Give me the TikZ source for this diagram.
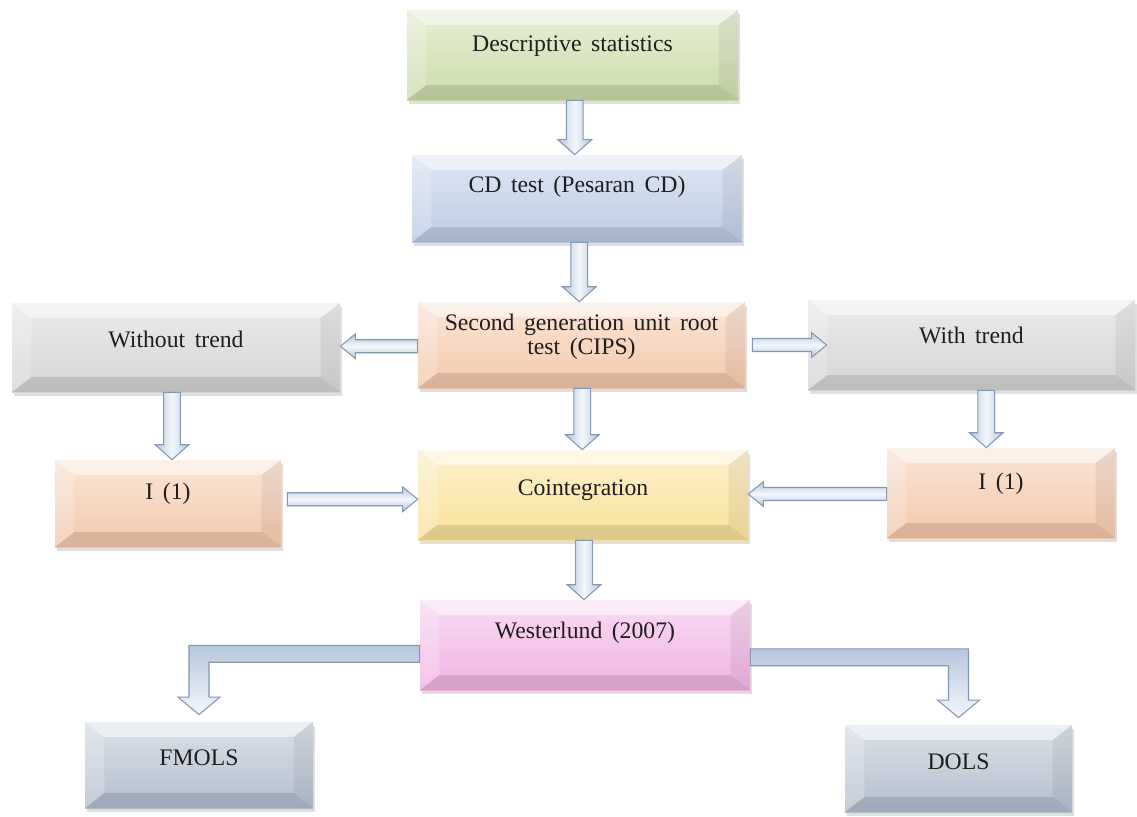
\documentclass[tikz,border=0pt]{standalone}
\usepackage{fontspec}
\setmainfont[WordSpace={1.6,0.5,0.3}]{Liberation Serif}
\usetikzlibrary{calc,shadows}
\definecolor{cgreen}{HTML}{C3D69B}
\definecolor{cblue}{HTML}{AFC2E0}
\definecolor{cpeach}{HTML}{F2BE9C}
\definecolor{cgrey}{HTML}{CDCDCD}
\definecolor{cyellow}{HTML}{F8DC86}
\definecolor{cpink}{HTML}{EFA5DE}
\definecolor{cslate}{HTML}{A6B3C5}
\definecolor{arrline}{HTML}{8396B2}
\definecolor{arrdark}{HTML}{B7C7DC}
\definecolor{arrlight}{HTML}{F3F7FC}
\newcommand\lift[2]{\raisebox{#1}[\height][\depth]{#2}}
\tikzset{
  bevel/.style={rectangle, inner sep=0pt, draw=none,
    top color=#1!40!white, bottom color=#1!85!white,
    font=\fontsize{13.5}{13.5}\selectfont, text=black!88, align=center,
    drop shadow={shadow xshift=1pt, shadow yshift=-2pt, opacity=.25},
    path picture={
      \fill[white,opacity=.5] (path picture bounding box.north west) -- (path picture bounding box.north east)
        -- ([xshift=-11pt,yshift=-8.5pt]path picture bounding box.north east)
        -- ([xshift=11pt,yshift=-8.5pt]path picture bounding box.north west) -- cycle;
      \fill[white,opacity=.22] (path picture bounding box.north west)
        -- ([xshift=11pt,yshift=-8.5pt]path picture bounding box.north west)
        -- ([xshift=11pt,yshift=8.5pt]path picture bounding box.south west)
        -- (path picture bounding box.south west) -- cycle;
      \fill[black,opacity=.06] (path picture bounding box.north east)
        -- ([xshift=-11pt,yshift=-8.5pt]path picture bounding box.north east)
        -- ([xshift=-11pt,yshift=8.5pt]path picture bounding box.south east)
        -- (path picture bounding box.south east) -- cycle;
      \fill[black,opacity=.11] (path picture bounding box.south west)
        -- ([xshift=11pt,yshift=8.5pt]path picture bounding box.south west)
        -- ([xshift=-11pt,yshift=8.5pt]path picture bounding box.south east)
        -- (path picture bounding box.south east) -- cycle;
    }},
  fatv/.style={draw=arrline, line width=0.6pt, left color=arrdark, right color=arrdark, middle color=arrlight},
  fath/.style={draw=arrline, line width=0.6pt, top color=arrdark, bottom color=arrdark, middle color=arrlight},
  fate/.style={draw=arrline, line width=0.6pt, top color=arrdark, bottom color=arrlight},
}
% box: name, x1, y1, x2, y2, colour, text
\newcommand\bx[7]{\node[bevel=#6, minimum width={(#4-#2)*0.02cm}, minimum height={(#5-#3)*0.02cm}]
  (#1) at ({(#2+#4)/2},{(#3+#5)/2}) {#7};}
\newcommand\vdown[2]{%
  \path[fatv] let \p1=($(#1.south)!0.5!(#2.north)$), \p2=(#1.south), \p3=(#2.north) in
  (\x1-4.8pt,\y2) -- (\x1+4.8pt,\y2) -- (\x1+4.8pt,\y3+8.5pt) -- (\x1+9.6pt,\y3+8.5pt) -- (\x1,\y3)
  -- (\x1-9.6pt,\y3+8.5pt) -- (\x1-4.8pt,\y3+8.5pt) -- cycle;}
% source, target, start shift, end shift
\newcommand\hleft[4]{%
  \path[fath] let \p1=($(#1.west)!0.5!(#2.east)$), \p2=([xshift=-#3]#1.west), \p3=([xshift=-#4]#2.east) in
  (\x2,\y1+3.7pt) -- (\x3+8.5pt,\y1+3.7pt) -- (\x3+8.5pt,\y1+7pt) -- (\x3,\y1) -- (\x3+8.5pt,\y1-7pt)
  -- (\x3+8.5pt,\y1-3.7pt) -- (\x2,\y1-3.7pt) -- cycle;}
\newcommand\hright[4]{%
  \path[fath] let \p1=($(#1.east)!0.5!(#2.west)$), \p2=([xshift=#3]#1.east), \p3=([xshift=#4]#2.west) in
  (\x2,\y1+3.7pt) -- (\x3-8.5pt,\y1+3.7pt) -- (\x3-8.5pt,\y1+7pt) -- (\x3,\y1) -- (\x3-8.5pt,\y1-7pt)
  -- (\x3-8.5pt,\y1-3.7pt) -- (\x2,\y1-3.7pt) -- cycle;}
\newcommand\elbowL[3]{%
  \path[fate] let \p1=([yshift=#3]#1.west), \p2=([yshift=4pt]#2.north) in
  (\x1,\y1+4.8pt) -- (\x2-5.7pt,\y1+4.8pt) -- (\x2-5.7pt,\y2+10pt) -- (\x2-12pt,\y2+10pt) -- (\x2,\y2)
  -- (\x2+12pt,\y2+10pt) -- (\x2+5.7pt,\y2+10pt) -- (\x2+5.7pt,\y1-4.8pt) -- (\x1,\y1-4.8pt) -- cycle;}
\newcommand\elbowR[3]{%
  \path[fate] let \p1=([yshift=#3]#1.east), \p2=([yshift=4pt]#2.north) in
  (\x1,\y1+4.8pt) -- (\x2+5.7pt,\y1+4.8pt) -- (\x2+5.7pt,\y2+10pt) -- (\x2+12pt,\y2+10pt) -- (\x2,\y2)
  -- (\x2-12pt,\y2+10pt) -- (\x2-5.7pt,\y2+10pt) -- (\x2-5.7pt,\y1-4.8pt) -- (\x1,\y1-4.8pt) -- cycle;}
\begin{document}
\begin{tikzpicture}[x=0.02cm, y=-0.02cm]
\fill[white] (0,0) rectangle (1137,816);
\useasboundingbox (0,0) rectangle (1137,816);
\bx{ds}{407}{10}{738}{100}{cgreen}{\lift{5.2pt}{Descriptive statistics}}
\bx{cd}{412}{155}{742}{242}{cblue}{\lift{6.5pt}{CD test (Pesaran CD)}}
\bx{sg}{418}{302}{745}{388}{cpeach}{\lift{4pt}{\begin{tabular}{@{}c@{}}Second generation unit root\\test (CIPS)\end{tabular}}}
\bx{wo}{12}{303}{340}{392}{cgrey}{\lift{4.5pt}{Without trend}}
\bx{wt}{808}{300}{1135}{390}{cgrey}{\lift{5.5pt}{With trend}}
\bx{il}{55}{460}{281}{547}{cpeach}{\lift{5.5pt}{I (1)}}
\bx{co}{418}{450}{748}{540}{cyellow}{\lift{3pt}{Cointegration}}
\bx{ir}{887}{448}{1115}{538}{cpeach}{\lift{5pt}{I (1)}}
\bx{we}{420}{600}{750}{690}{cpink}{\lift{7pt}{Westerlund (2007)}}
\bx{fm}{85}{722}{313}{808}{cslate}{\lift{4pt}{FMOLS}}
\bx{dl}{845}{725}{1072}{812}{cslate}{\lift{4pt}{DOLS}}
\vdown{ds}{cd}
\vdown{cd}{sg}
\vdown{sg}{co}
\vdown{wo}{il}
\vdown{wt}{ir}
\vdown{co}{we}
\hleft{sg}{wo}{0pt}{0pt}
\hright{sg}{wt}{4pt}{10.8pt}
\hright{il}{co}{3.4pt}{0pt}
\hleft{ir}{co}{0pt}{0pt}
\elbowL{we}{fm}{-5pt}
\elbowR{we}{dl}{-7pt}
\end{tikzpicture}
\end{document}
